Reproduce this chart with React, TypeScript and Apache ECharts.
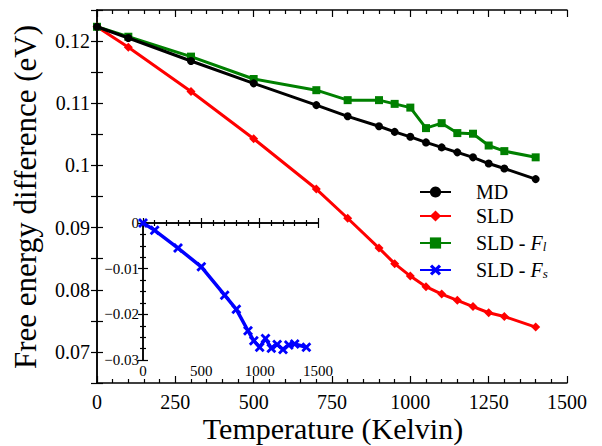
import React, { useEffect, useRef } from "react";
import * as echarts from "echarts";

const temps = [0, 100, 300, 500, 700, 800, 900, 950, 1000, 1050, 1100, 1150, 1200, 1250, 1300, 1400];
const mdValues = [0.1223, 0.1205, 0.1168, 0.1132, 0.1097, 0.1079, 0.1063, 0.1054, 0.1046, 0.1037, 0.1029, 0.1021, 0.1013, 0.1003, 0.0995, 0.0978];
const sldValues = [0.1223, 0.119, 0.1119, 0.1043, 0.0962, 0.0915, 0.0867, 0.0842, 0.0822, 0.0805, 0.0793, 0.0783, 0.0773, 0.0763, 0.0757, 0.074];
const sldFlValues = [0.1223, 0.1207, 0.1175, 0.1139, 0.1121, 0.1105, 0.1105, 0.1099, 0.1093, 0.106, 0.1068, 0.1052, 0.1051, 0.1032, 0.1023, 0.1013];
const sldFsValues = [0, -0.0016, -0.0055, -0.0096, -0.0158, -0.0189, -0.0236, -0.0258, -0.0272, -0.0253, -0.0274, -0.0266, -0.0277, -0.0267, -0.0265, -0.0272];

const seriesNames = ["MD", "SLD", "SLD - Fl", "SLD - Fs"];
const xTitle = "Temperature (Kelvin)";
const yTitle = "Free energy difference (eV)";

const FONT = "Liberation Serif";
const X_MARK = "path://M2,0 L5,3 L8,0 L10,2 L7,5 L10,8 L8,10 L5,7 L2,10 L0,8 L3,5 L0,2 Z";

const pairs = (xs: number[], ys: number[]) => xs.map((x, i) => [x, ys[i]]);

export default function App() {
  const ref = useRef<HTMLDivElement>(null);
  useEffect(() => {
    if (!ref.current) return;
    const chart = echarts.init(ref.current, undefined, { renderer: "svg" });
    const axisLine = { show: true, lineStyle: { color: "#000", width: 1.5 } };
    const tick = (len: number) => ({ show: true, inside: true, length: len, lineStyle: { color: "#000", width: 1.2 } });
    const minor = (n: number, len: number) => ({ show: true, splitNumber: n, length: len, lineStyle: { color: "#000", width: 1.2 } });

    const mainX = { min: 0, max: 1500, interval: 250 };
    const mainY = { min: 0.065, max: 0.125, interval: 0.005 };
    const insX = { min: 0, max: 1500, interval: 500 };
    const insY = { min: -0.03, max: 0, interval: 0.01 };

    chart.setOption({
      animation: false,
      backgroundColor: "#fff",
      textStyle: { fontFamily: FONT },
      grid: [
        { left: 97, top: 10, width: 470, height: 373, containLabel: false },
        { left: 143, top: 223, width: 175, height: 137, show: true, backgroundColor: "#fff", borderWidth: 0, z: 5 },
      ],
      xAxis: [
        {
          type: "value", gridIndex: 0, position: "bottom", ...mainX,
          axisLine, axisTick: tick(7), minorTick: minor(5, 4), splitLine: { show: false },
          axisLabel: { fontFamily: FONT, fontSize: 20, color: "#000", margin: 9, formatter: (v: number) => String(v) },
        },
        {
          type: "value", gridIndex: 0, position: "top", ...mainX,
          axisLine, axisTick: tick(7), minorTick: minor(5, 4), splitLine: { show: false },
          axisLabel: { show: false },
        },
        {
          type: "value", gridIndex: 1, position: "bottom", ...insX,
          axisLine, axisTick: tick(5), minorTick: minor(5, 3), splitLine: { show: false },
          axisLabel: { fontFamily: FONT, fontSize: 15, color: "#000", margin: 3, formatter: (v: number) => String(v) }, z: 6,
        },
        {
          type: "value", gridIndex: 1, position: "top", ...insX,
          axisLine, axisTick: tick(5), minorTick: minor(5, 3), splitLine: { show: false },
          axisLabel: { show: false }, z: 6,
        },
      ],
      yAxis: [
        {
          type: "value", gridIndex: 0, position: "left", ...mainY,
          axisLine, axisTick: tick(6), splitLine: { show: false },
          axisLabel: {
            fontFamily: FONT, fontSize: 20, color: "#000", margin: 7,
            formatter: (v: number) => {
              const k = Math.round(v * 1000);
              return k % 10 === 0 ? String(Number(v.toFixed(2))) : "";
            },
          },
        },
        {
          type: "value", gridIndex: 0, position: "right", ...mainY,
          axisLine, axisTick: tick(6), splitLine: { show: false },
          axisLabel: { show: false },
        },
        {
          type: "value", gridIndex: 1, position: "left", ...insY,
          axisLine, axisTick: tick(5), minorTick: minor(4, 3), splitLine: { show: false },
          axisLabel: {
            fontFamily: FONT, fontSize: 15, color: "#000", margin: 4,
            formatter: (v: number) => (Math.abs(v) < 1e-9 ? "0" : "\u2212" + Math.abs(v).toFixed(2)),
          }, z: 6,
        },
        {
          type: "value", gridIndex: 1, position: "right", ...insY,
          axisLine, axisTick: tick(5), minorTick: minor(4, 3), splitLine: { show: false },
          axisLabel: { show: false }, z: 6,
        },
      ],
      legend: {
        orient: "vertical",
        left: 419,
        top: 182,
        padding: 0,
        itemWidth: 31,
        itemHeight: 14,
        itemGap: 4,
        selectedMode: false,
        data: seriesNames,
        formatter: (name: string) => {
          if (name === "SLD - Fl") return "SLD - {i|F}{sub|l}";
          if (name === "SLD - Fs") return "SLD - {i|F}{sub|s}";
          return name;
        },
        textStyle: {
          fontFamily: FONT, fontSize: 20, color: "#000", lineHeight: 20, padding: [0, 0, 0, 20],
          rich: {
            i: { fontFamily: FONT, fontSize: 20, fontStyle: "italic", color: "#000", lineHeight: 20 },
            sub: { fontFamily: FONT, fontSize: 13, fontStyle: "italic", color: "#000", verticalAlign: "bottom", lineHeight: 20, padding: [10, 0, 0, 0] },
          },
        },
      },
      graphic: [
        {
          type: "text", x: 333, y: 428, z: 10,
          style: { text: xTitle, fontFamily: FONT, fontSize: 30, fill: "#000", textAlign: "center", textVerticalAlign: "middle" },
        },
        {
          type: "text", x: 25, y: 197, rotation: Math.PI / 2, z: 10,
          style: { text: yTitle, fontFamily: FONT, fontSize: 31, fill: "#000", textAlign: "center", textVerticalAlign: "middle" },
        },
      ],
      series: [
        {
          name: "MD", type: "line", xAxisIndex: 0, yAxisIndex: 0, data: pairs(temps, mdValues),
          symbol: "circle", symbolSize: 8, lineStyle: { color: "#000", width: 3 }, itemStyle: { color: "#000" }, z: 3,
        },
        {
          name: "SLD", type: "line", xAxisIndex: 0, yAxisIndex: 0, data: pairs(temps, sldValues),
          symbol: "diamond", symbolSize: 9, lineStyle: { color: "#ff0000", width: 3 }, itemStyle: { color: "#ff0000" }, z: 2,
        },
        {
          name: "SLD - Fl", type: "line", xAxisIndex: 0, yAxisIndex: 0, data: pairs(temps, sldFlValues),
          symbol: "rect", symbolSize: 8, lineStyle: { color: "#008000", width: 3 }, itemStyle: { color: "#008000" }, z: 2,
        },
        {
          name: "SLD - Fs", type: "line", xAxisIndex: 2, yAxisIndex: 2, data: pairs(temps, sldFsValues),
          symbol: X_MARK, symbolSize: 10, lineStyle: { color: "#0000ff", width: 3.5 }, itemStyle: { color: "#0000ff" }, z: 7,
        },
      ],
    });
    return () => chart.dispose();
  }, []);
  return (
    <div
      ref={ref}
      style={{ position: "fixed", left: 0, top: 0, width: 602, height: 446, background: "#fff" }}
    />
  );
}
